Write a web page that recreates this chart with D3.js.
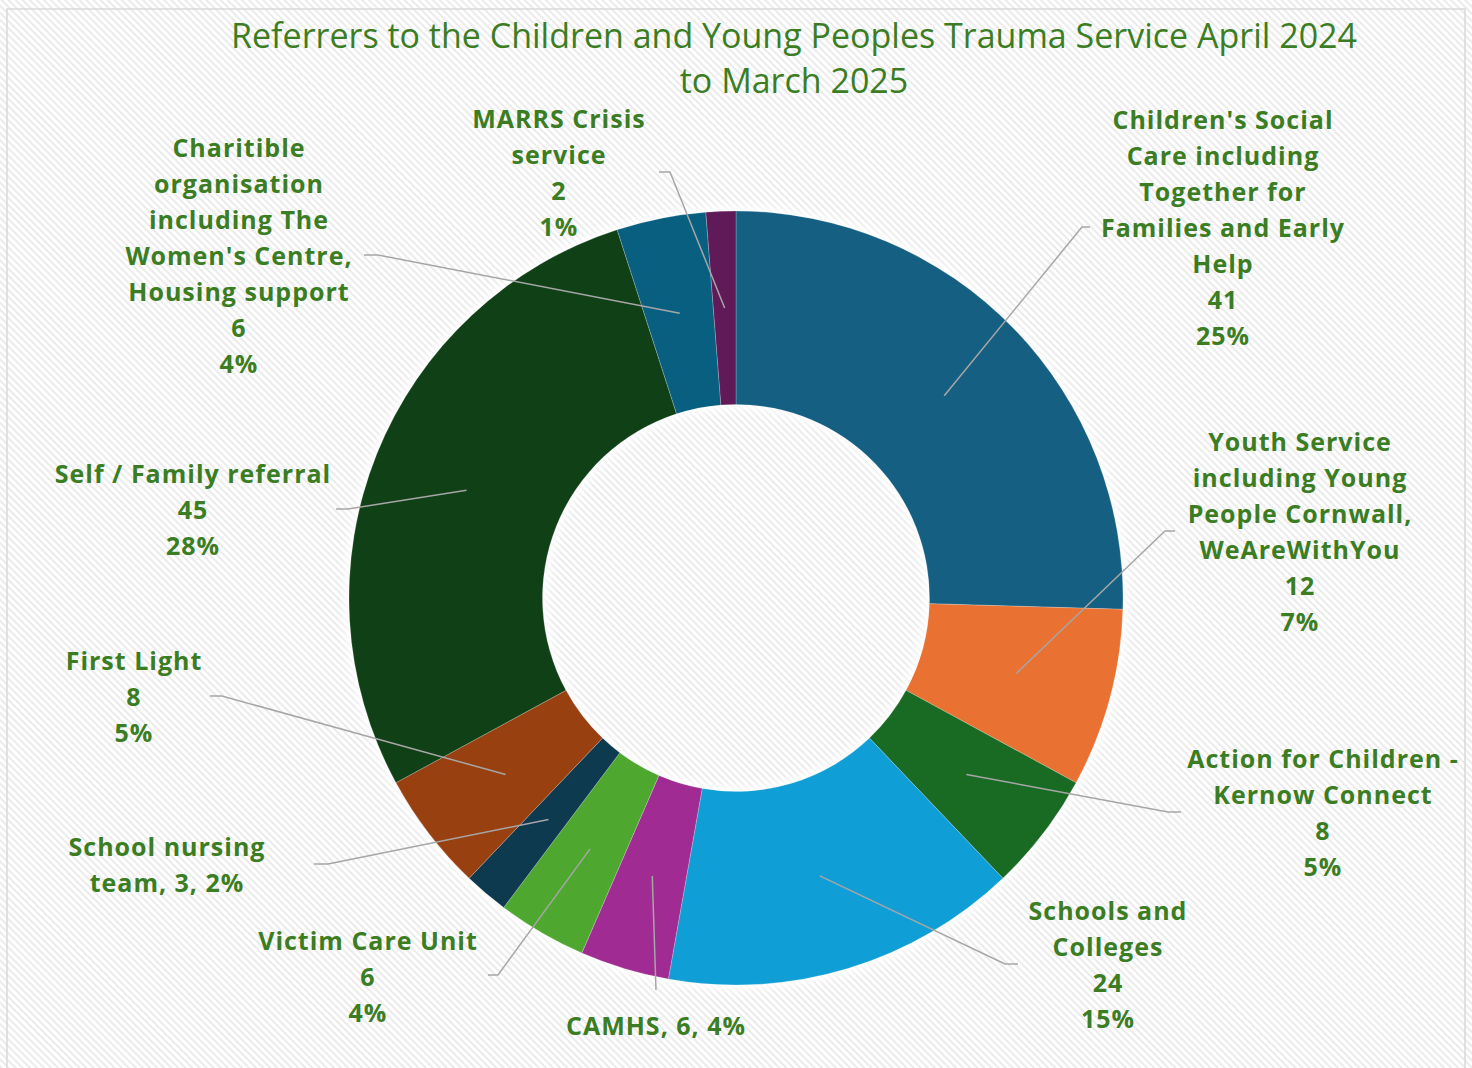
<!DOCTYPE html>
<html>
<head>
<meta charset="utf-8">
<script src="https://cdn.jsdelivr.net/npm/d3@7"></script>
<style>
  html, body { margin: 0; padding: 0; background: #fff; }
  svg { display: block; }
</style>
</head>
<body>
<svg id="chart" width="1472" height="1068"></svg>
<script>
// data
var categories = [
  "Children's Social Care including Together for Families and Early Help",
  "Youth Service including Young People Cornwall, WeAreWithYou",
  "Action for Children - Kernow Connect",
  "Schools and Colleges",
  "CAMHS",
  "Victim Care Unit",
  "School nursing team",
  "First Light",
  "Self / Family referral",
  "Charitible organisation including The Women's Centre, Housing support",
  "MARRS Crisis service"
];
var values = [41, 12, 8, 24, 6, 6, 3, 8, 45, 6, 2];
var colors = ["#156082", "#E97132", "#196B24", "#0F9ED5", "#A02B93", "#4EA72E",
              "#0D3A4E", "#984010", "#0F4016", "#095F80", "#601A58"];

// how the category names wrap in the labels (text only)
var labelWraps = [
  ["Children's Social", "Care including", "Together for", "Families and Early", "Help"],
  ["Youth Service", "including Young", "People Cornwall,", "WeAreWithYou"],
  ["Action for Children -", "Kernow Connect"],
  ["Schools and", "Colleges"],
  null,
  ["Victim Care Unit"],
  null,
  ["First Light"],
  ["Self / Family referral"],
  ["Charitible", "organisation", "including The", "Women's Centre,", "Housing support"],
  ["MARRS Crisis", "service"]
];

var title = ["Referrers to the Children and Young Peoples Trauma Service April 2024", "to March 2025"];

// label placement: centre x, first line y, leader start [x, y, stubX]
var labelPos = [
  {x: 1223, y: 120, lead: [1090, 227, 1082]},
  {x: 1300, y: 442, lead: [1175, 531, 1165]},
  {x: 1323, y: 759, lead: [1181, 812, 1168]},
  {x: 1108, y: 911, lead: [1018, 964, 1005]},
  {x: 656,  y: 1026, lead: [656, 990, 656]},
  {x: 368,  y: 941, lead: [488, 975, 498]},
  {x: 167,  y: 847, lead: [314, 864, 328]},
  {x: 134,  y: 661, lead: [210, 696, 222]},
  {x: 193,  y: 474, lead: [336, 509, 348]},
  {x: 239,  y: 148, lead: [364, 255, 378]},
  {x: 559,  y: 119, lead: [659, 172, 670]}
];

var W = 1472, H = 1068;
var cx = 736, cy = 598, outerR = 387, innerR = 193.5;
var textColor = "#3B7D23";
var lineH = 36;

var svg = d3.select("#chart");
var defs = svg.append("defs");

var pat = defs.append("pattern")
  .attr("id", "hatch")
  .attr("patternUnits", "userSpaceOnUse")
  .attr("width", 5).attr("height", 5)
  .attr("patternTransform", "rotate(-45)");
pat.append("rect").attr("width", 5).attr("height", 5).attr("fill", "#fff");
pat.append("rect").attr("width", 2).attr("height", 5).attr("fill", "#ebebeb");

var glow = defs.append("filter").attr("id", "glow")
  .attr("x", "-20%").attr("y", "-20%").attr("width", "140%").attr("height", "140%");
glow.append("feGaussianBlur").attr("stdDeviation", 5);

// background + border
svg.append("rect")
  .attr("x", 0).attr("y", 0).attr("width", W).attr("height", H)
  .attr("fill", "url(#hatch)");
svg.append("rect")
  .attr("x", 7).attr("y", 9).attr("width", 1458).attr("height", 1080)
  .attr("fill", "none").attr("stroke", "#d9d9d9").attr("stroke-width", 1.5);

// title
svg.append("g").selectAll("text")
  .data(title)
  .enter().append("text")
    .attr("x", 794)
    .attr("y", function(d, i) { return 36 + i * 45; })
    .attr("dy", "0.35em")
    .attr("text-anchor", "middle")
    .attr("fill", textColor)
    .style("font-family", "'Open Sans', 'Noto Sans', sans-serif")
    .style("font-size", "34px")
    .text(function(d) { return d; });

// donut
var total = d3.sum(values);
var pct = d3.format(".0%");
var pie = d3.pie().sort(null).value(function(d) { return d; });
var arcs = pie(values);
var arc = d3.arc().innerRadius(innerR).outerRadius(outerR);

var g = svg.append("g").attr("transform", "translate(" + cx + "," + cy + ")");

g.append("g").attr("filter", "url(#glow)")
  .selectAll("path").data(arcs).enter().append("path")
    .attr("d", arc).attr("fill", "#fff")
    .attr("stroke", "#fff").attr("stroke-width", 8);

g.append("g").selectAll("path")
  .data(arcs)
  .enter().append("path")
    .attr("d", arc)
    .attr("fill", function(d, i) { return colors[i]; })
    .attr("stroke", "rgba(255,255,255,0.35)")
    .attr("stroke-width", 0.6);

// leader lines
svg.append("g").selectAll("polyline")
  .data(arcs)
  .enter().append("polyline")
    .attr("points", function(d, i) {
      var c = arc.centroid(d);
      var L = labelPos[i].lead;
      return [[L[0], L[1]], [L[2], L[1]], [cx + c[0], cy + c[1]]].join(" ");
    })
    .attr("fill", "none")
    .attr("stroke", "#a6a6a6")
    .attr("stroke-width", 1.5);

// labels
var labels = svg.append("g").selectAll("text")
  .data(arcs)
  .enter().append("text")
    .attr("text-anchor", "middle")
    .attr("fill", textColor)
    .style("font-family", "'Open Sans', 'Noto Sans', sans-serif")
    .style("font-weight", "bold")
    .style("font-size", "25px")
    .style("letter-spacing", "1px");

labels.each(function(d, i) {
  var lines;
  var p = pct(d.value / total);
  if (i === 4) lines = [categories[i] + ", " + d.value + ", " + p];
  else if (i === 6) lines = ["School nursing", "team, " + d.value + ", " + p];
  else lines = labelWraps[i].concat([String(d.value), p]);
  d3.select(this).selectAll("tspan")
    .data(lines)
    .enter().append("tspan")
      .attr("x", labelPos[i].x)
      .attr("y", function(t, j) { return labelPos[i].y + j * lineH; })
      .attr("dy", "0.35em")
      .text(function(t) { return t; });
});
</script>
</body>
</html>
